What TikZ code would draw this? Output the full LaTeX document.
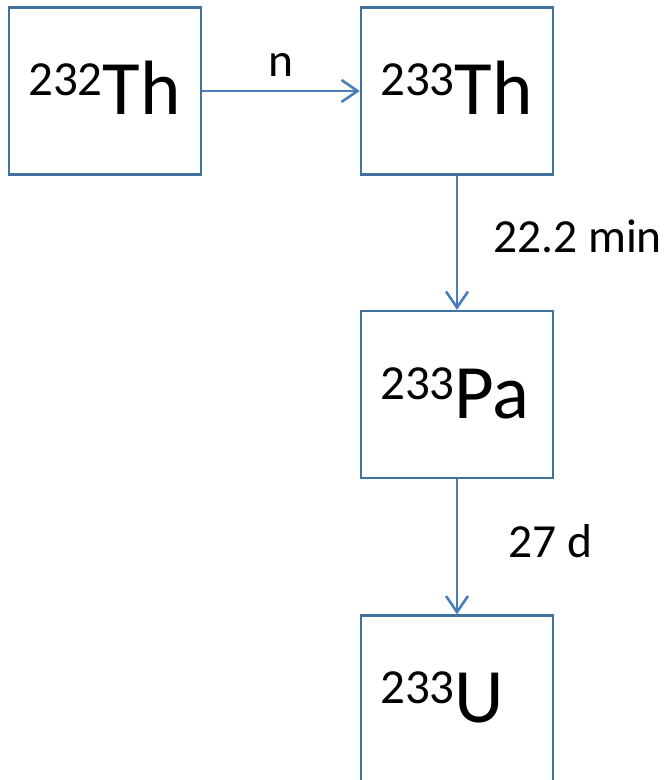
\documentclass[tikz,border=0pt]{standalone}
\usepackage{fontspec}
\setmainfont{Carlito}
\usetikzlibrary{arrows.meta}
\definecolor{boxline}{HTML}{41719C}
\definecolor{arrowline}{HTML}{4A7EBB}
\tikzset{
  nuclide/.style={draw=boxline, line width=2.4pt, minimum width=192pt, minimum height=167pt, inner sep=0pt},
  symtext/.style={anchor=base west, inner sep=0pt, text=black},
  decay/.style={draw=arrowline, line width=2.6pt, -{Straight Barb[length=16pt,width=22pt,line width=2.6pt]}},
  ratelabel/.style={anchor=base west, inner sep=0pt, font=\fontsize{47.5}{50}\selectfont}
}
\newcommand{\isotope}[2]{\raisebox{19pt}{\fontsize{49}{49}\selectfont #1}\fontsize{77}{80}\selectfont #2}
\begin{document}
\begin{tikzpicture}[x=1pt,y=-1pt]
\useasboundingbox (0,0) rectangle (665,780);
% nuclide boxes
\node[nuclide] (th232) at (105,91) {};
\node[nuclide] (th233) at (457,91) {};
\node[nuclide] (pa233) at (457,394.5) {};
\node[nuclide] (u233)  at (457,699) {};
% symbols
\node[symtext] (th232t) at (28,114) {\isotope{232}{Th}};
\node[symtext] (th233t) at (380,114) {\isotope{233}{Th}};
\node[symtext] (pa233t) at (380,418) {\isotope{233}{Pa}};
\node[symtext] (u233t)  at (380,722) {\isotope{233}{U}};
% transitions
\draw[decay] (th232.east) -- (th233.west);
\draw[decay] (th233.south) -- (pa233.north);
\draw[decay] (pa233.south) -- (u233.north);
% labels
\node[anchor=base, inner sep=0pt, font=\fontsize{47.5}{50}\selectfont] (nlab) at (281,76) {n};
\node[ratelabel] (t1) at (493,252) {22.2 min};
\node[ratelabel] (t2) at (508,557) {27 d};
\end{tikzpicture}
\end{document}
